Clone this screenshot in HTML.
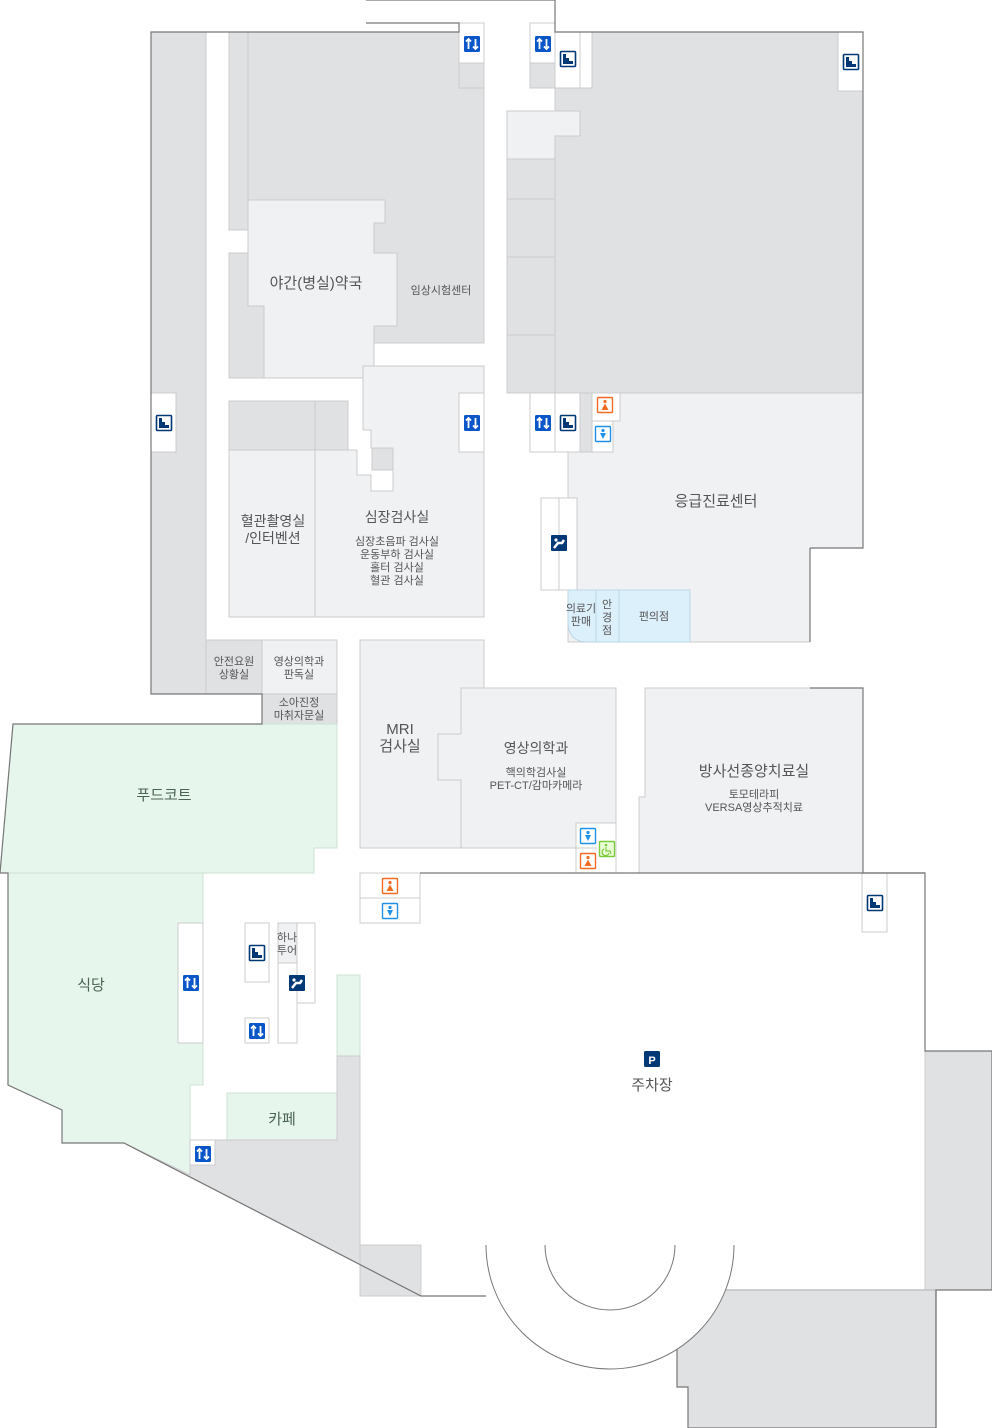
<!DOCTYPE html>
<html><head><meta charset="utf-8"><style>
html,body{margin:0;padding:0;background:#fff}
svg{display:block}
text{font-family:"Liberation Sans","Noto Sans CJK KR",sans-serif;fill:#555;text-anchor:middle}
.d{fill:#e0e1e3;stroke:#ccc;stroke-width:1}
.l{fill:#f0f1f3;stroke:#ccc;stroke-width:1}
.g{fill:#e7f6ec;stroke:#cde3d4;stroke-width:1}
.b{fill:#dcf0fb;stroke:#bcd6e6;stroke-width:1}
.w{fill:#fff;stroke:#ccc;stroke-width:1}
.o{fill:none;stroke:#777;stroke-width:1.2}
</style></head><body>
<svg width="992" height="1428" viewBox="0 0 992 1428" xmlns="http://www.w3.org/2000/svg">
<defs>
<g id="el"><rect x="-8" y="-8" width="16" height="16" rx="1.5" fill="#0a56c8"/><path d="M-3.5,5V-5M-6,-2.5L-3.5,-5L-1,-2.5M3.5,-5V5M1,2.5L3.5,5L6,2.5" stroke="#fff" stroke-width="1.8" fill="none"/></g>
<g id="st"><rect x="-7.5" y="-7.5" width="15" height="15" rx="1" fill="#fff" stroke="#003876" stroke-width="1.6"/><path d="M-5,-5H-2V-1H1V2H5V5H-5Z" fill="#003876"/></g>
<g id="es"><rect x="-8" y="-8" width="16" height="16" rx="1" fill="#003876"/><path d="M-5,5L-1,0H3L5,-3" stroke="#fff" stroke-width="2.5" fill="none"/><circle cx="-3" cy="-3" r="1.6" fill="#fff"/></g>
<g id="wm"><rect x="-7.5" y="-7.5" width="15" height="15" rx="1" fill="#fff" stroke="#f26b21" stroke-width="1.4"/><circle cx="0" cy="-3.5" r="1.6" fill="#f26b21"/><path d="M0,-1.5L-3.5,5H3.5Z" fill="#f26b21"/></g>
<g id="mn"><rect x="-7.5" y="-7.5" width="15" height="15" rx="1" fill="#fff" stroke="#1e90e8" stroke-width="1.4"/><circle cx="0" cy="-3.5" r="1.6" fill="#1e90e8"/><path d="M-3,-1H3L0,5Z" fill="#1e90e8"/></g>
<g id="hc"><rect x="-7.5" y="-7.5" width="15" height="15" rx="1" fill="#eaffd8" stroke="#7ccc3c" stroke-width="1.4"/><circle cx="-1" cy="-4" r="1.3" fill="#7ccc3c"/><path d="M-1,-2V2H3L4,5M-3,0A3.5,3.5 0 1 0 2,4" stroke="#7ccc3c" stroke-width="1.2" fill="none"/></g>
</defs>

<rect class="d" x="151" y="32" width="55" height="662"/>
<rect class="w" x="151" y="393" width="25" height="59"/>
<rect class="d" x="229" y="32" width="19" height="198"/>
<rect class="d" x="248" y="32" width="236" height="311"/>
<rect class="d" x="229" y="253" width="35" height="125"/>
<polygon class="l" points="248,200 385,200 385,223 374,223 374,253 397,253 397,326 374,326 374,378 264,378 264,306 248,306"/>
<rect class="w" x="459" y="23" width="25" height="40"/>
<rect class="d" x="459" y="63" width="25" height="25"/>
<rect class="d" x="229" y="401" width="86" height="49"/>
<rect class="d" x="315" y="401" width="33" height="49"/>
<rect class="l" x="229" y="450" width="86" height="167"/>
<polygon class="l" points="363,366 484,366 484,617 315,617 315,450 357,450 357,475 371,475 371,491 393,491 393,448 371,448 371,430 363,430"/>
<rect class="d" x="372" y="448" width="21" height="22"/>
<rect class="w" x="459" y="393" width="25" height="59"/>
<rect class="d" x="206" y="640" width="56" height="54"/>
<rect class="l" x="262" y="640" width="75" height="54"/>
<rect class="d" x="262" y="694" width="75" height="30"/>

<rect class="d" x="555" y="32" width="308" height="361"/>
<rect class="d" x="507" y="159" width="48" height="234"/>
<line x1="507" y1="199" x2="555" y2="199" stroke="#ccc"/>
<line x1="507" y1="257" x2="555" y2="257" stroke="#ccc"/>
<line x1="507" y1="335" x2="555" y2="335" stroke="#ccc"/>
<polygon class="l" points="507,111 580,111 580,136 555,136 555,159 507,159"/>
<rect class="w" x="530" y="23" width="25" height="40"/>
<rect class="d" x="530" y="63" width="25" height="25"/>
<rect class="w" x="555" y="32" width="25" height="56"/>
<rect class="w" x="580" y="32" width="12" height="56"/>
<rect class="w" x="838" y="32" width="25" height="59"/>
<polygon class="l" points="568,393 863,393 863,548 810,548 810,642 568,642"/>
<rect class="w" x="530" y="393" width="25" height="59"/>
<rect class="w" x="555" y="393" width="25" height="59"/>
<rect class="d" x="580" y="393" width="12" height="59"/>
<rect class="w" x="592" y="393" width="28" height="28"/>
<rect class="w" x="592" y="421" width="21" height="31"/>
<rect class="w" x="541" y="498" width="18" height="92"/>
<rect class="w" x="559" y="498" width="18" height="92"/>
<path class="b" d="M568,590H690V642H588Q568,642 568,622Z"/>
<line x1="596" y1="590" x2="596" y2="642" stroke="#bcd6e6"/>
<line x1="619" y1="590" x2="619" y2="642" stroke="#bcd6e6"/>

<rect class="l" x="360" y="640" width="124" height="208"/>
<polygon class="l" points="461,688 616,688 616,848 461,848 461,780 438,780 438,734 461,734"/>
<rect class="w" x="576" y="823" width="40" height="50"/>
<line x1="576" y1="848" x2="597" y2="848" stroke="#ccc"/>
<polygon class="l" points="645,688 863,688 863,873 639,873 639,797 645,797"/>

<polygon class="g" points="13,724 337,724 337,848 314,848 314,873 0,873"/>
<polygon class="g" points="8,873 203,873 203,1085 190,1085 190,1175 124,1143 62,1143 62,1110 8,1085"/>
<rect class="g" x="337" y="975" width="23" height="81"/>
<rect class="g" x="227" y="1093" width="110" height="47"/>
<polygon class="d" points="190,1165 215,1165 215,1140 337,1140 337,1056 360,1056 360,1296 421,1296 124,1143 190,1175"/>
<rect class="d" x="360" y="1245" width="61" height="51"/>
<rect class="w" x="190" y="1140" width="25" height="25"/>
<rect class="w" x="178" y="923" width="25" height="120"/>
<rect class="w" x="245" y="923" width="24" height="59"/>
<rect class="w" x="245" y="1018" width="24" height="25"/>
<rect class="l" x="278" y="923" width="19" height="40"/>
<rect class="w" x="278" y="963" width="19" height="80"/>
<rect class="w" x="297" y="923" width="18" height="80"/>
<rect class="w" x="360" y="873" width="60" height="25"/>
<rect class="w" x="360" y="898" width="60" height="25"/>
<rect class="w" x="862" y="873" width="25" height="59"/>
<rect class="d" x="925" y="1051" width="67" height="239"/>
<polygon points="677,1290 936,1290 936,1428 688,1428 688,1387 677,1387" fill="#e0e1e3" stroke="#777" stroke-width="1.2"/>
<line x1="677" y1="1290" x2="936" y2="1290" stroke="#ccc" stroke-width="1.4"/>
<path d="M486,1245A124,124 0 0 0 734,1245" fill="#fff" stroke="#777"/>
<path d="M545,1245A65,65 0 0 0 675,1245" fill="none" stroke="#777"/>

<path class="o" d="M366,0H555V32H863V393"/>
<path class="o" d="M366,23H459V32H151V694H262V724H13L0,873H8V1085L62,1110V1143H124L421,1296H486"/>
<path class="o" d="M810,548H863V393M810,548V642"/>
<path class="o" d="M810,688H863V873H925V1051H992V1290H936V1428"/>
<path class="o" d="M420,873H925"/>

<use href="#el" x="472" y="44"/><use href="#el" x="543" y="44"/>
<use href="#st" x="568" y="59"/><use href="#st" x="851" y="62"/>
<use href="#st" x="164" y="423"/><use href="#el" x="472" y="423"/>
<use href="#el" x="543" y="423"/><use href="#st" x="568" y="423"/>
<use href="#wm" x="605" y="405"/><use href="#mn" x="603" y="434"/>
<use href="#es" x="559" y="543"/>
<use href="#mn" x="588" y="836"/><use href="#wm" x="588" y="861"/><use href="#hc" x="607" y="849"/>
<use href="#wm" x="390" y="886"/><use href="#mn" x="390" y="911"/>
<use href="#st" x="875" y="903"/>
<use href="#el" x="191" y="983"/><use href="#st" x="257" y="953"/><use href="#el" x="257" y="1031"/>
<use href="#es" x="297" y="983"/><use href="#el" x="203" y="1154"/>
<rect x="644" y="1051" width="16" height="16" rx="1.5" fill="#003876"/>
<text x="652" y="1064" style="fill:#fff;font-size:11px;font-weight:bold">P</text>

<text x="316" y="288" font-size="15">야간(병실)약국</text>
<text x="441" y="294" font-size="11">임상시험센터</text>
<text x="273" y="526" font-size="14">혈관촬영실</text>
<text x="273" y="543" font-size="14">/인터벤션</text>
<text x="397" y="522" font-size="14">심장검사실</text>
<text x="397" y="545" font-size="11">심장초음파 검사실</text>
<text x="397" y="558" font-size="11">운동부하 검사실</text>
<text x="397" y="571" font-size="11">홀터 검사실</text>
<text x="397" y="584" font-size="11">혈관 검사실</text>
<text x="716" y="506" font-size="15">응급진료센터</text>
<text x="581" y="612" font-size="11">의료기</text>
<text x="581" y="625" font-size="11">판매</text>
<text x="607" y="608" font-size="11">안</text>
<text x="607" y="621" font-size="11">경</text>
<text x="607" y="634" font-size="11">점</text>
<text x="654" y="620" font-size="11">편의점</text>
<text x="234" y="665" font-size="11">안전요원</text>
<text x="234" y="678" font-size="11">상황실</text>
<text x="299" y="665" font-size="11">영상의학과</text>
<text x="299" y="678" font-size="11">판독실</text>
<text x="299" y="706" font-size="11">소아진정</text>
<text x="299" y="719" font-size="11">마취자문실</text>
<text x="400" y="734" font-size="15">MRI</text>
<text x="400" y="751" font-size="15">검사실</text>
<text x="536" y="753" font-size="14">영상의학과</text>
<text x="536" y="776" font-size="11">핵의학검사실</text>
<text x="536" y="789" font-size="11">PET-CT/감마카메라</text>
<text x="754" y="776" font-size="15">방사선종양치료실</text>
<text x="754" y="798" font-size="11">토모테라피</text>
<text x="754" y="811" font-size="11">VERSA영상추적치료</text>
<text x="164" y="800" font-size="15" style="fill:#4a6454">푸드코트</text>
<text x="91" y="990" font-size="15" style="fill:#4a6454">식당</text>
<text x="282" y="1124" font-size="15" style="fill:#4a6454">카페</text>
<text x="287" y="941" font-size="11">하나</text>
<text x="287" y="954" font-size="11">투어</text>
<text x="652" y="1090" font-size="15">주차장</text>
</svg>
</body></html>
